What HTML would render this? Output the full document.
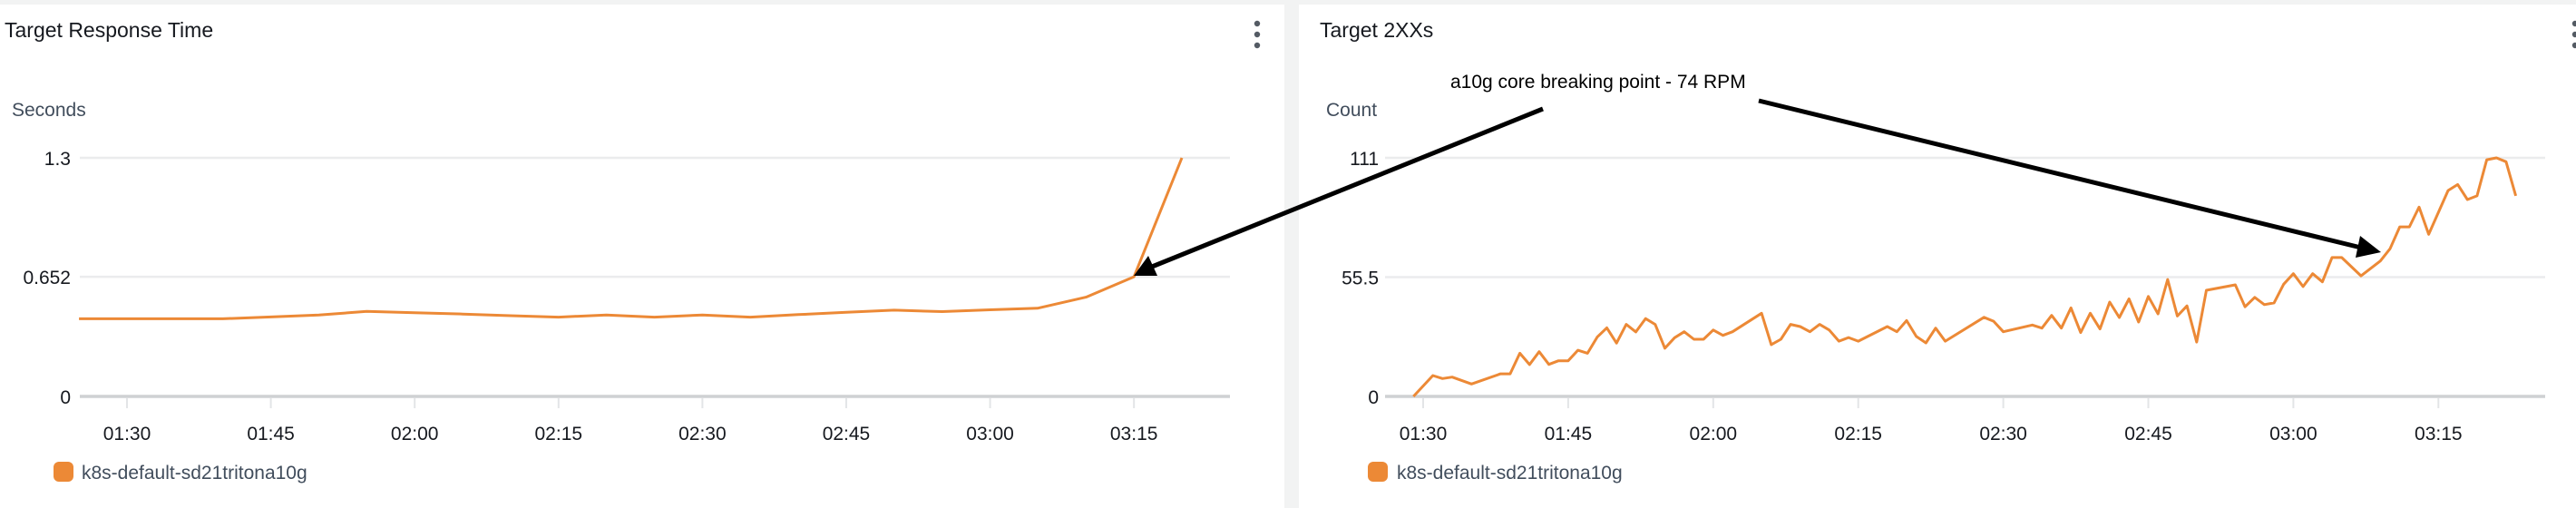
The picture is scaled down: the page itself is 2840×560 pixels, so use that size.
<!DOCTYPE html>
<html><head><meta charset="utf-8">
<style>
html,body{margin:0;padding:0;width:2840px;height:560px;overflow:hidden;background:#f2f3f3;font-family:"Liberation Sans",sans-serif;}
svg{position:absolute;left:0;top:0;}
</style></head>
<body>
<svg id="chart" width="2840" height="560" xmlns="http://www.w3.org/2000/svg">
  <rect x="0" y="5" width="1416" height="555" fill="#fff"/>
  <rect x="1432" y="5" width="1408" height="555" fill="#fff"/>
  <text x="5" y="41" font-size="23" fill="#16191f">Target Response Time</text>
  <text x="1455" y="41" font-size="23" fill="#16191f">Target 2XXs</text>
  <g fill="#545b64">
    <circle cx="1386" cy="26" r="3.2"/><circle cx="1386" cy="38" r="3.2"/><circle cx="1386" cy="50" r="3.2"/>
  </g>
  <g fill="#545b64">
    <circle cx="2839" cy="26" r="3.2"/><circle cx="2839" cy="38" r="3.2"/><circle cx="2839" cy="50" r="3.2"/>
  </g>
  <text x="13" y="128" font-size="21" fill="#414d5c">Seconds</text>
  <text x="1462" y="128" font-size="21" fill="#414d5c">Count</text>
  <g id="left"></g>
  <g id="right"></g>
  <g>
    <rect x="59" y="509" width="22" height="22" rx="6" fill="#ec8936"/>
    <text x="90" y="528" font-size="21" fill="#414d5c">k8s-default-sd21tritona10g</text>
  </g>
  <g>
    <rect x="1508" y="509" width="22" height="22" rx="6" fill="#ec8936"/>
    <text x="1540" y="528" font-size="21" fill="#414d5c">k8s-default-sd21tritona10g</text>
  </g>
  <text x="1599" y="97" font-size="21" fill="#000">a10g core breaking point - 74 RPM</text>
  <g>
    <line x1="1701" y1="120" x2="1270" y2="294" stroke="#000" stroke-width="5"/>
    <polygon points="1250,304 1266,282 1276,304" fill="#000"/>
  </g>
  <g>
    <line x1="1939" y1="111" x2="2603" y2="273" stroke="#000" stroke-width="5"/>
    <polygon points="2625,278 2602,260 2597,284" fill="#000"/>
  </g>
</svg>
<script>
// Left chart data (minutes since 01:30, seconds)
const leftMinutes = [-5,0,5,10,15,20,25,30,35,40,45,50,55,60,65,70,75,80,85,90,95,100,105,110];
const leftValues = [0.423,0.423,0.423,0.423,0.433,0.444,0.463,0.456,0.449,0.44,0.432,0.444,0.432,0.444,0.432,0.446,0.458,0.47,0.462,0.472,0.481,0.541,0.652,1.3];
const leftTicks = ["0","0.652","1.3"];
const leftTickValues = [0,0.652,1.3];
// Right chart data (minutes since 01:30, count)
const rightMinutes = [-1,1,2,3,5,8,9,10,11,12,13,14,15,16,17,18,19,20,21,22,23,24,25,26,27,28,29,30,31,32,35,36,37,38,39,40,41,42,43,44,45,48,49,50,51,52,53,54,58,59,60,63,64,65,66,67,68,69,70,71,72,73,74,75,76,77,78,79,80,81,84,85,86,87,88,89,90,91,92,93,94,95,97,99,100,101,102,103,104,106,107,108,109,110,111,112,113];
const rightValues = [0,9.7,8.3,9.0,5.8,10.5,10.5,20.1,14.8,20.8,14.9,16.6,16.6,21.5,20.1,27.6,31.9,24.8,33.5,30,36.2,33.5,22.4,27.3,30.1,26.6,26.6,30.9,28.4,30.1,38.7,24.1,26.6,33.5,32.5,30.1,33.5,30.9,25.7,27.4,25.7,32.5,30.1,35.3,27.9,24.9,31.8,25.7,36.8,35,30.1,33.2,31.8,37.7,31.8,41.2,29.7,38.7,31.4,43.9,36.7,45.4,34.6,46.5,38.4,54.4,37.4,42.1,25.3,49.4,51.9,41.7,46.1,42.7,43.5,52.2,57.1,51.1,57.1,53.3,64.6,64.6,56.1,63,68.7,78.9,78.9,88.1,75.4,95.8,98.6,91.6,93.3,110.1,111,109.2,93.3];
const rightTicks = ["0","55.5","111"];
const rightTickValues = [0,55.5,111];
const xTickLabels = ["01:30","01:45","02:00","02:15","02:30","02:45","03:00","03:15"];
const xTickMinutes = [0,15,30,45,60,75,90,105];

const NS = "http://www.w3.org/2000/svg";
function mk(parent, tag, attrs){const e=document.createElementNS(NS,tag);for(const k in attrs)e.setAttribute(k,attrs[k]);parent.appendChild(e);return e;}

function drawChart(g, cfg){
  const yS = v => cfg.y0 - (v/cfg.yMax)*(cfg.y0-cfg.y1);
  const xS = m => cfg.x0min + m*cfg.pxPerMin;
  cfg.tickValues.forEach((v,i)=>{
    const y=yS(v);
    const gl=mk(g,"line",{x1:cfg.plotL,x2:cfg.plotR,y1:y,y2:y,stroke:i===0?"#cfd1d3":"#ebeced","stroke-width":i===0?3.5:2.5});
    
    
    const t=mk(g,"text",{x:cfg.labelR,y:y+8,"text-anchor":"end","font-size":21,fill:"#16191f"});
    t.textContent=cfg.tickLabels[i];
    
    
  });
  xTickMinutes.forEach((m,i)=>{
    const x=xS(m);
    const tk=mk(g,"line",{x1:x,x2:x,y1:439,y2:450,stroke:"#e3e5e7","stroke-width":2});
    
    
    const t=mk(g,"text",{x:x,y:485,"text-anchor":"middle","font-size":21,fill:"#16191f"});
    t.textContent=xTickLabels[i];
    
    
  });
  const pts=cfg.minutes.map((m,i)=>xS(m).toFixed(1)+","+yS(cfg.values[i]).toFixed(1)).join(" ");
  const pl=mk(g,"polyline",{points:pts,fill:"none",stroke:"#ec8936","stroke-width":cfg.sw,"stroke-linejoin":"round"});
  
  
}
drawChart(document.getElementById("left"),{y0:437,y1:174,yMax:1.3,x0min:140,pxPerMin:10.573,plotL:88,plotR:1356,labelR:78,
  tickValues:leftTickValues,tickLabels:leftTicks,minutes:leftMinutes,values:leftValues,sw:3});
drawChart(document.getElementById("right"),{y0:437,y1:174,yMax:111,x0min:1569,pxPerMin:10.66,plotL:1527,plotR:2806,labelR:1520,
  tickValues:rightTickValues,tickLabels:rightTicks,minutes:rightMinutes,values:rightValues,sw:3});
</script>
</body></html>
